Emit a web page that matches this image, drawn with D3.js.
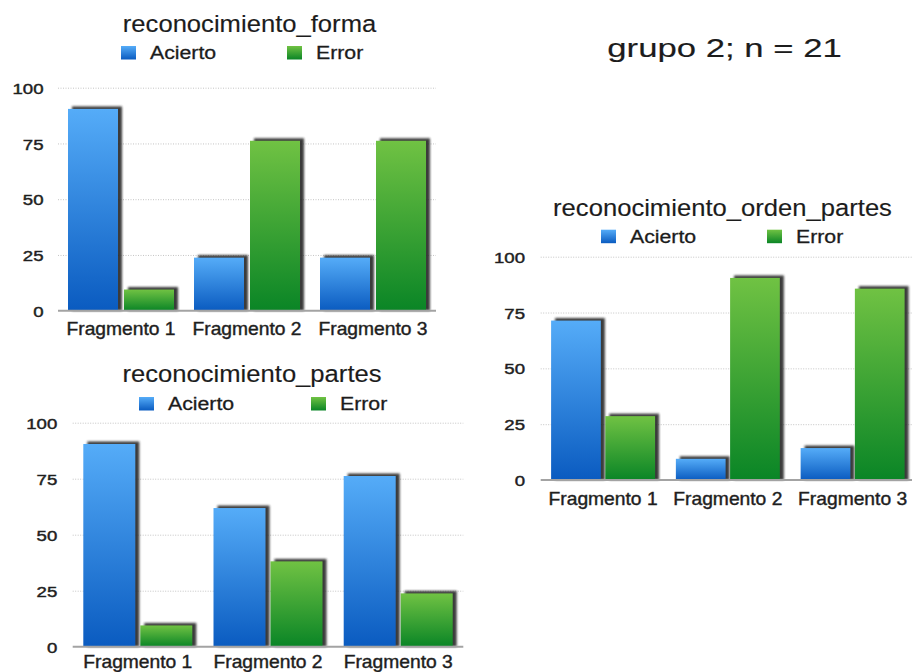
<!DOCTYPE html>
<html>
<head>
<meta charset="utf-8">
<script src="https://cdn.jsdelivr.net/npm/d3@7"></script>
<style>
  html, body { margin: 0; padding: 0; background: #fff; }
  svg { display: block; }
  text { font-family: "Liberation Sans", Arial, Helvetica, sans-serif; fill: #1c1c1c; }
</style>
</head>
<body>
<svg id="chart" width="912" height="672"></svg>
<script>
// ---- data (percent of n = 21) ----
const categories = ["Fragmento 1", "Fragmento 2", "Fragmento 3"];
const seriesNames = ["Acierto", "Error"];
const yTickValues = [0, 25, 50, 75, 100];
const gridValues = [25, 50, 75, 100];

const formaAcierto = [90.5, 23.8, 23.8];
const formaError = [9.5, 76.2, 76.2];

const partesAcierto = [90.5, 61.9, 76.2];
const partesError = [9.5, 38.1, 23.8];

const ordenAcierto = [71.4, 9.5, 14.3];
const ordenError = [28.6, 90.5, 85.7];

const groupLabel = "grupo 2; n = 21";

// ---- panel layout ----
const panels = [
  { title: "reconocimiento_forma", values: [formaAcierto, formaError],
    x0: 58, x1: 436, yTop: 87.7, yBase: 310.7, outer: 10, gap: 6,
    titleX: 249.5, titleY: 31.7, legendX: 121, legendY: 59, legendStep: 166,
    tickEnd: 43.5, catY: 335 },
  { title: "reconocimiento_partes", values: [partesAcierto, partesError],
    x0: 72.7, x1: 463.3, yTop: 422.7, yBase: 646.7, outer: 10.6, gap: 5,
    titleX: 252, titleY: 381.7, legendX: 139, legendY: 410, legendStep: 172,
    tickEnd: 57.3, catY: 668 },
  { title: "reconocimiento_orden_partes", values: [ordenAcierto, ordenError],
    x0: 540.7, x1: 915, yTop: 256.7, yBase: 480, outer: 10.4, gap: 4.5,
    titleX: 722.5, titleY: 216, legendX: 601, legendY: 242.7, legendStep: 166,
    tickEnd: 525, catY: 505 }
];

const fonts = {
  title:  { size: 23.5, sx: 1.09, stroke: 0.15 },
  legend: { size: 19,   sx: 1.12, stroke: 0.3 },
  tick:   { size: 15.5, sx: 1.2,  stroke: 0.45 },
  cat:    { size: 17.5, sx: 1.1,  stroke: 0.4 },
  group:  { size: 26.5, sx: 1.31, stroke: 0.15 }
};

const svg = d3.select("#chart");
const defs = svg.append("defs");

// vertical gradients for the two series
const gradStops = {
  Acierto: ["#55acf8", "#0a5bc0"],
  Error:   ["#70c243", "#0a8526"]
};
Object.entries(gradStops).forEach(([name, [top, bottom]]) => {
  const g = defs.append("linearGradient")
    .attr("id", "grad-" + name)
    .attr("x1", 0).attr("y1", 0).attr("x2", 0).attr("y2", 1);
  g.append("stop").attr("offset", "0%").attr("stop-color", top);
  g.append("stop").attr("offset", "100%").attr("stop-color", bottom);
});

const blur = defs.append("filter").attr("id", "shadowBlur")
  .attr("x", "-20%").attr("y", "-20%").attr("width", "140%").attr("height", "140%");
blur.append("feGaussianBlur").attr("stdDeviation", 1.1);

function label(sel, x, y, str, f, anchor) {
  return sel.append("text")
    .attr("transform", `translate(${x},${y}) scale(${f.sx},1)`)
    .attr("text-anchor", anchor || "start")
    .style("font-size", f.size + "px")
    .attr("stroke", "#1c1c1c").attr("stroke-width", f.stroke)
    .text(str);
}

panels.forEach(p => {
  const g = svg.append("g");

  const y = d3.scaleLinear().domain([0, 100]).range([p.yBase, p.yTop]);
  const x = d3.scaleBand().domain(categories).range([p.x0, p.x1]).padding(0);
  const step = x.step();
  const inner = step - 2 * p.outer;
  const xs = d3.scaleBand().domain(seriesNames)
    .range([p.outer, step - p.outer])
    .paddingInner(2 * p.gap / (inner + p.gap))
    .paddingOuter(0);

  // dotted grid
  const grid = g.append("g")
    .attr("transform", `translate(${p.x0},0)`)
    .call(d3.axisLeft(y).tickValues(gridValues).tickSize(-(p.x1 - p.x0)).tickFormat(""));
  grid.select(".domain").remove();
  grid.selectAll("line")
    .attr("stroke", "#c4c4c4").attr("stroke-width", 1)
    .attr("stroke-dasharray", "1,1.5");

  // y tick labels
  const yAxis = g.append("g")
    .attr("transform", `translate(${p.tickEnd},0)`)
    .call(d3.axisLeft(y).tickValues(yTickValues).tickSize(0).tickPadding(0));
  yAxis.select(".domain").remove();
  yAxis.selectAll("text")
    .attr("x", 0).attr("dy", "0.36em")
    .attr("transform", `scale(${fonts.tick.sx},1)`)
    .attr("fill", "#262626")
    .attr("stroke", "#262626").attr("stroke-width", fonts.tick.stroke)
    .style("font-size", fonts.tick.size + "px")
    .style("font-family", null);

  // bars with offset shadow
  const rows = categories.map((c, i) => seriesNames.map((s, j) => ({ cat: c, series: s, value: p.values[j][i] })));
  const groups = g.selectAll(".grp").data(rows).join("g")
    .attr("transform", d => `translate(${x(d[0].cat)},0)`);

  groups.selectAll(".shadow").data(d => d).join("rect")
    .attr("x", d => xs(d.series) + 4)
    .attr("y", d => y(d.value) - 2.5)
    .attr("width", xs.bandwidth())
    .attr("height", d => p.yBase - y(d.value) + 2.5)
    .attr("fill", "#262626")
    .attr("opacity", 0.9)
    .attr("filter", "url(#shadowBlur)");

  groups.selectAll(".bar").data(d => d).join("rect")
    .attr("x", d => xs(d.series))
    .attr("y", d => y(d.value))
    .attr("width", xs.bandwidth())
    .attr("height", d => p.yBase - y(d.value))
    .attr("fill", d => `url(#grad-${d.series})`);

  // baseline
  g.append("line")
    .attr("x1", p.x0).attr("x2", p.x1)
    .attr("y1", p.yBase).attr("y2", p.yBase)
    .attr("stroke", "#a3a3a3").attr("stroke-width", 2);

  // category labels
  const xAxis = g.append("g")
    .attr("transform", `translate(0,${p.catY})`)
    .call(d3.axisBottom(x).tickSize(0).tickPadding(0));
  xAxis.select(".domain").remove();
  xAxis.selectAll("text")
    .attr("y", 0).attr("dy", 0)
    .attr("transform", `scale(${fonts.cat.sx},1)`)
    .attr("fill", "#262626")
    .attr("stroke", "#262626").attr("stroke-width", fonts.cat.stroke)
    .style("font-size", fonts.cat.size + "px")
    .style("font-family", null);

  // title
  label(g, p.titleX, p.titleY, p.title, fonts.title, "middle");

  // legend
  seriesNames.forEach((s, j) => {
    const lx = p.legendX + j * p.legendStep;
    g.append("rect")
      .attr("x", lx).attr("y", p.legendY - 13)
      .attr("width", 15).attr("height", 13.5)
      .attr("fill", `url(#grad-${s})`);
    label(g, lx + 29, p.legendY, s, fonts.legend, "start");
  });
});

label(svg, 724.5, 57.3, groupLabel, fonts.group, "middle");
</script>
</body>
</html>
